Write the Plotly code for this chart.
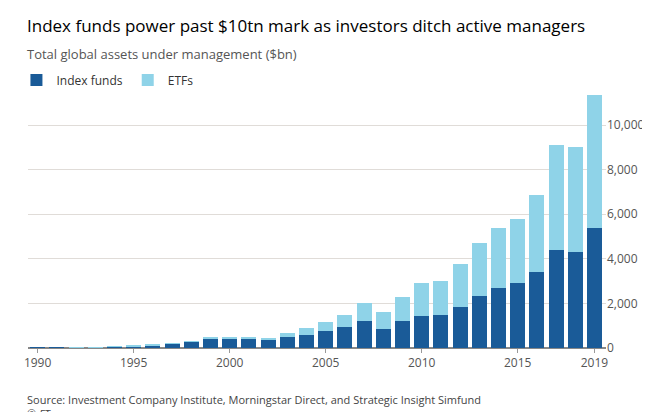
import plotly.graph_objects as go

years = list(range(1990, 2020))
index_funds = [10, 15, 25, 40, 50, 80, 110, 180, 280, 430, 420, 400, 350, 480, 600, 750, 950, 1200, 850, 1200,
               1450, 1500, 1850, 2350, 2700, 2900, 3400, 4400, 4300, 5400]
etfs = [0, 0, 2, 5, 10, 15, 25, 40, 20, 40, 70, 90, 110, 180, 280, 400, 550, 800, 750, 1100,
        1450, 1500, 1900, 2350, 2700, 2900, 3450, 4700, 4700, 5950]
xticks = [1990, 1995, 2000, 2005, 2010, 2015, 2019]

fig = go.Figure()
fig.add_bar(x=years, y=index_funds, name="Index funds", marker_color="#1a5b98", marker_line_width=0)
fig.add_bar(x=years, y=etfs, name="ETFs", marker_color="#8fd3e8", marker_line_width=0)

def py(p):  # pixel from top -> paper y
    return (412 - 72 - p) / 260

fig.update_layout(
    barmode="stack", bargap=0.22, width=650, height=412,
    paper_bgcolor="white", plot_bgcolor="white",
    font=dict(family="Open Sans, sans-serif", color="#333", size=12),
    margin=dict(l=8, r=52, t=80, b=72),
    legend=dict(orientation="h", x=-0.02, y=py(72), xanchor="left", yanchor="middle",
                font=dict(size=12, color="#333"), traceorder="normal"),
    xaxis=dict(tickvals=xticks, ticks="outside", ticklen=4, tickcolor="#999",
               showgrid=False, range=[1989.5, 2019.6], tickfont=dict(color="#555")),
    yaxis=dict(side="right", range=[0, 11660], tickvals=[0, 2000, 4000, 6000, 8000, 10000],
               tickformat=",", gridcolor="#e0dcd8", zeroline=True, zerolinecolor="#888",
               tickfont=dict(color="#555")),
    annotations=[
        dict(text="Index funds power past $10tn mark as investors ditch active managers",
             y=py(18), font=dict(size=17, color="#000")),
        dict(text="Total global assets under management ($bn)", y=py(46),
             font=dict(size=13, color="#555")),
        dict(text="Source: Investment Company Institute, Morningstar Direct, and Strategic Insight Simfund",
             y=py(391), font=dict(size=11, color="#444")),
        dict(text="<i>© FT</i>", y=py(405), font=dict(size=11, color="#444")),
    ],
)
for a in fig.layout.annotations:
    a.update(x=-0.005, xref="paper", yref="paper", xanchor="left", yanchor="middle", showarrow=False)
fig.write_html("out.html")
